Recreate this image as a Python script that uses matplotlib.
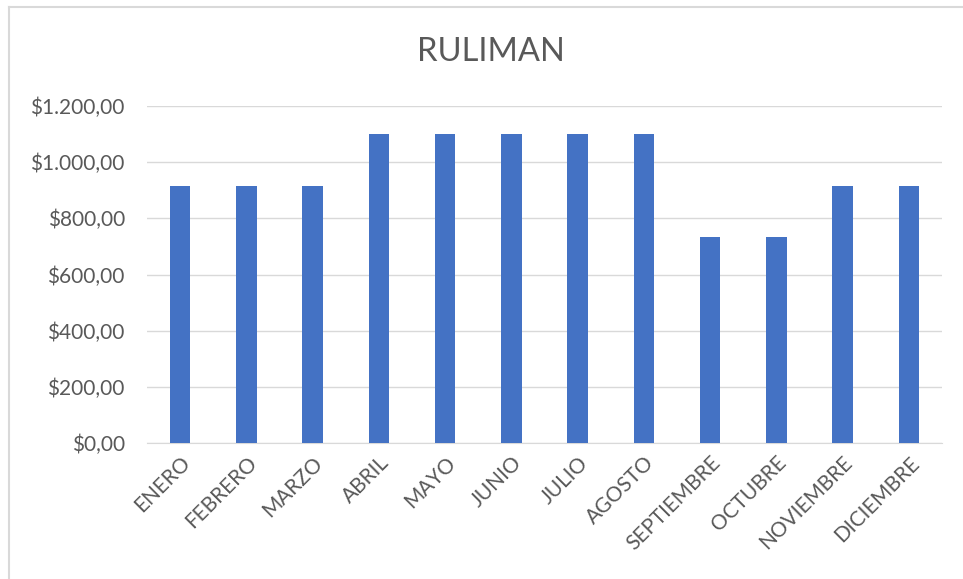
import matplotlib
matplotlib.use('Agg')
import matplotlib.pyplot as plt
from matplotlib.ticker import FuncFormatter
from matplotlib.lines import Line2D

meses = ['ENERO', 'FEBRERO', 'MARZO', 'ABRIL', 'MAYO', 'JUNIO', 'JULIO',
         'AGOSTO', 'SEPTIEMBRE', 'OCTUBRE', 'NOVIEMBRE', 'DICIEMBRE']
valores = [916.67, 916.67, 916.67, 1100, 1100, 1100, 1100, 1100,
           733.33, 733.33, 916.67, 916.67]
y_ticks = [0, 200, 400, 600, 800, 1000, 1200]

plt.rcParams['font.family'] = ['Lato', 'DejaVu Sans']
gris = '#595959'


def moneda(v, pos):
    # formato $1.200,00
    s = f'{v:,.2f}'
    s = s.replace(',', 'X').replace('.', ',').replace('X', '.')
    return '$' + s


fig = plt.figure(figsize=(9.63, 5.79), dpi=100)
ax = fig.add_axes([147 / 963, 1 - 443 / 579, 795 / 963, 337 / 579])

x = range(len(meses))
ax.bar(x, valores, width=0.31, color='#4472C4', zorder=3)

ax.set_xlim(-0.5, len(meses) - 0.5)
ax.set_ylim(0, 1200)
ax.set_yticks(y_ticks)
ax.yaxis.set_major_formatter(FuncFormatter(moneda))
ax.set_xticks(list(x))
ax.set_xticklabels(meses, rotation=45, ha='right', rotation_mode='anchor')

ax.grid(axis='y', color='#D9D9D9', linewidth=1, zorder=0)
for s in ['top', 'right', 'left']:
    ax.spines[s].set_visible(False)
ax.spines['bottom'].set_color('#D9D9D9')
ax.tick_params(axis='both', length=0, labelsize=15, colors=gris)
ax.tick_params(axis='y', pad=16)
ax.tick_params(axis='x', pad=7)

fig.text(491 / 963, 1 - 52 / 579, 'RULIMAN', ha='center', va='center',
         fontsize=23.5, color=gris)

# borde del grafico
fig.add_artist(Line2D([9 / 963, 1], [1 - 7 / 579, 1 - 7 / 579],
                      color='#D9D9D9', linewidth=1.5))
fig.add_artist(Line2D([9 / 963, 9 / 963], [0, 1 - 7 / 579],
                      color='#D9D9D9', linewidth=1.5))

fig.savefig('out.png', dpi=100)
